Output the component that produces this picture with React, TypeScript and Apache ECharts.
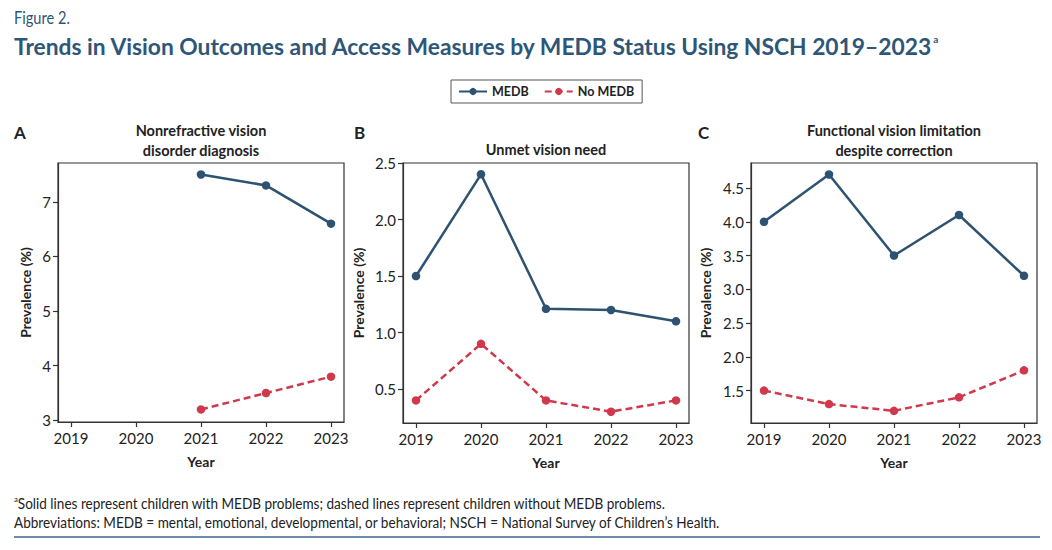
import { useEffect, useRef } from "react";
import * as echarts from "echarts";

const years = [2019, 2020, 2021, 2022, 2023];
const medbA = [null, null, 7.5, 7.3, 6.6];
const noMedbA = [null, null, 3.2, 3.5, 3.8];
const medbB = [1.5, 2.4, 1.21, 1.2, 1.1];
const noMedbB = [0.4, 0.9, 0.4, 0.3, 0.4];
const medbC = [4.0, 4.7, 3.5, 4.1, 3.2];
const noMedbC = [1.5, 1.3, 1.2, 1.4, 1.8];
const ticksA = [3, 4, 5, 6, 7];
const ticksB = [0.5, 1.0, 1.5, 2.0, 2.5];
const ticksC = [1.5, 2.0, 2.5, 3.0, 3.5, 4.0, 4.5];
const panelTitles = ["Nonrefractive vision\ndisorder diagnosis", "Unmet vision need", "Functional vision limitation\ndespite correction"];
const panelLetters = ["A", "B", "C"];
const seriesNames = ["MEDB", "No MEDB"];

const FONT = "Lato, 'Open Sans', sans-serif";
const BLUE = "#2d5272";
const RED = "#d0394c";
const TITLE_BLUE = "#2e5678";
const AXIS = "#333";

function pairs(vals: (number | null)[]) {
  return years.map((y, i) => [y, vals[i]]).filter((p) => p[1] !== null);
}

export default function App() {
  const ref = useRef<HTMLDivElement>(null);
  useEffect(() => {
    if (!ref.current) return;
    const chart = echarts.init(ref.current, undefined, { renderer: "svg" });
    const grids = [
      { left: 58, top: 163, width: 286, height: 259 },
      { left: 403, top: 163, width: 286, height: 260 },
      { left: 751, top: 163, width: 286, height: 260 },
    ];
    const yConf = [
      { min: 2.97, max: 7.71, ticks: ticksA, dec: 0, gap: 26 },
      { min: 0.2, max: 2.5, ticks: ticksB, dec: 1, gap: 38 },
      { min: 1.02, max: 4.87, ticks: ticksC, dec: 1, gap: 39 },
    ];
    const data = [
      [medbA, noMedbA],
      [medbB, noMedbB],
      [medbC, noMedbC],
    ];
    const nameStyle = { fontFamily: FONT, fontWeight: "bold" as const, fontSize: 14, color: "#222" };
    const labelStyle = { fontFamily: FONT, fontSize: 15, color: "#222" };

    const series: any[] = [];
    data.forEach((pair, i) => {
      series.push({
        type: "line",
        name: seriesNames[0],
        xAxisIndex: i,
        yAxisIndex: i,
        data: pairs(pair[0]),
        symbol: "circle",
        symbolSize: 8.5,
        itemStyle: { color: BLUE },
        lineStyle: { color: BLUE, width: 2.5, type: "solid" },
      });
      series.push({
        type: "line",
        name: seriesNames[1],
        xAxisIndex: i,
        yAxisIndex: i,
        data: pairs(pair[1]),
        symbol: "circle",
        symbolSize: 8.5,
        itemStyle: { color: RED },
        lineStyle: { color: RED, width: 2.5, type: [7, 4] },
      });
    });

    const graphics: any[] = [
      {
        type: "text",
        x: 14,
        y: 9,
        scaleX: 0.86,
        style: { text: "Figure 2.", font: `17px ${FONT}`, fill: TITLE_BLUE },
      },
      {
        type: "text",
        x: 14,
        y: 34,
        style: {
          text: "Trends in Vision Outcomes and Access Measures by MEDB Status Using NSCH 2019–2023{sup|a}",
          font: `bold 22.8px ${FONT}`,
          fill: TITLE_BLUE,
          rich: { sup: { fontSize: 10, fontWeight: "bold", fontFamily: FONT, fill: TITLE_BLUE, verticalAlign: "top", padding: [0, 0, 11, 0] } },
        },
      },
      {
        type: "text",
        x: 14,
        y: 494,
        scaleX: 0.905,
        style: {
          text: "{sup|a}Solid lines represent children with MEDB problems; dashed lines represent children without MEDB problems.\nAbbreviations: MEDB = mental, emotional, developmental, or behavioral; NSCH = National Survey of Children’s Health.",
          font: `15px ${FONT}`,
          fill: "#222",
          lineHeight: 19,
          rich: { sup: { fontSize: 8.5, fontFamily: FONT, fill: "#222", verticalAlign: "top", padding: [0, 0, 6, 0] } },
        },
      },
      {
        type: "line",
        shape: { x1: 14, y1: 537, x2: 1040, y2: 537 },
        style: { stroke: "#3a6690", lineWidth: 1.5 },
      },
    ];
    const letterX = [14, 354, 698];
    grids.forEach((g, i) => {
      graphics.push({
        type: "text",
        x: letterX[i],
        y: 132,
        style: { text: panelLetters[i], font: `bold 17px ${FONT}`, fill: "#222", verticalAlign: "middle", textVerticalAlign: "middle" },
      });
      const lines = panelTitles[i].split("\n").length;
      graphics.push({
        type: "text",
        x: g.left + g.width / 2,
        y: lines === 2 ? 121 : 140,
        style: {
          text: panelTitles[i],
          font: `bold 14.5px ${FONT}`,
          fill: "#222",
          align: "center",
          textAlign: "center",
          lineHeight: 19.5,
        },
      });
    });

    chart.setOption({
      animation: false,
      backgroundColor: "#fff",
      legend: {
        data: seriesNames,
        left: 451,
        top: 80,
        padding: [5, 8, 5, 7],
        itemWidth: 28,
        itemHeight: 9,
        itemGap: 15,
        borderColor: "#555",
        borderWidth: 1,
        textStyle: { fontFamily: FONT, fontWeight: "bold", fontSize: 12.5, color: "#222" },
      },
      grid: grids.map((g) => ({
        ...g,
        show: true,
        borderColor: AXIS,
        borderWidth: 1.2,
        containLabel: false,
        outerBoundsMode: "none",
      })),
      xAxis: grids.map((_, i) => ({
        type: "value",
        gridIndex: i,
        min: 2018.8,
        max: 2023.2,
        name: "Year",
        nameLocation: "middle",
        nameGap: 32,
        nameTextStyle: nameStyle,
        axisLine: { show: true, onZero: false, lineStyle: { color: AXIS, width: 1.2 } },
        axisTick: { show: true, length: 5, customValues: years, lineStyle: { color: AXIS, width: 1.2 } },
        axisLabel: { ...labelStyle, margin: 8, customValues: years, formatter: (v: number) => String(v) },
        splitLine: { show: false },
      })),
      yAxis: grids.map((_, i) => ({
        type: "value",
        gridIndex: i,
        min: yConf[i].min,
        max: yConf[i].max,
        name: "Prevalence (%)",
        nameLocation: "middle",
        nameGap: yConf[i].gap,
        nameTextStyle: nameStyle,
        axisLine: { show: true, onZero: false, lineStyle: { color: AXIS, width: 1.2 } },
        axisTick: { show: true, length: 5, customValues: yConf[i].ticks, lineStyle: { color: AXIS, width: 1.2 } },
        axisLabel: {
          ...labelStyle,
          margin: 7,
          customValues: yConf[i].ticks,
          formatter: (v: number) => v.toFixed(yConf[i].dec),
        },
        splitLine: { show: false },
      })),
      series,
      graphic: graphics,
    });
    return () => chart.dispose();
  }, []);
  return <div ref={ref} style={{ position: "absolute", left: 0, top: 0, width: 1052, height: 550, background: "#fff" }} />;
}
